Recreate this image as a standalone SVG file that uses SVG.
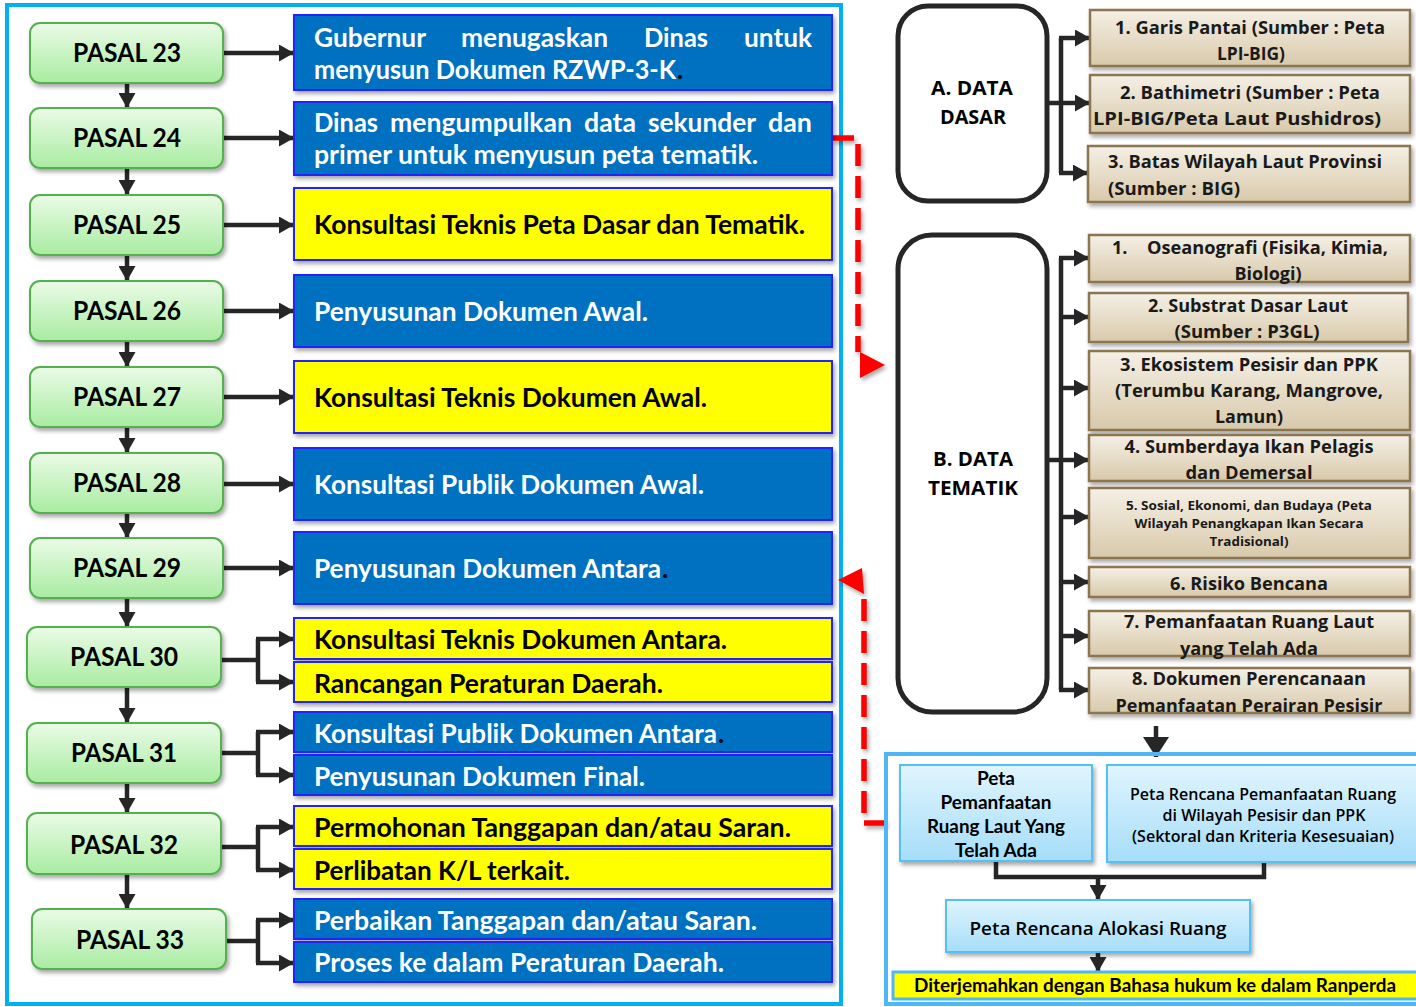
<svg xmlns="http://www.w3.org/2000/svg" width="1416" height="1007" viewBox="0 0 1416 1007">
<style>
.cal{font-family:Lato,"Liberation Sans",sans-serif;font-weight:bold}
.os{font-family:"Open Sans","Noto Sans","Liberation Sans",sans-serif;font-weight:bold}
.oss{font-family:"Open Sans","Noto Sans","Liberation Sans",sans-serif;font-weight:600}
.pasal{fill:url(#gGreen);stroke:#55b04f;stroke-width:2}
.blue{fill:#0070c0;stroke:#2222ff;stroke-width:2}
.yel{fill:#ffff00;stroke:#2222ff;stroke-width:2}
.tan{fill:url(#gTan);stroke:#8b7650;stroke-width:2.5}
.lb{fill:url(#gLB);stroke:#55c0f2;stroke-width:2}
.big{fill:#fff;stroke:#262626;stroke-width:5}
.con{fill:none;stroke:#262626;stroke-width:4.5}
.red{fill:none;stroke:#ff0000;stroke-width:5.5;stroke-dasharray:22 10}
.wt{fill:#fff;font-size:26px}
.bt{fill:#000;font-size:26px}
.pt{fill:#000;font-size:26px}
.tt{fill:#1a1a1a;font-size:18px}
</style>
<defs>
<linearGradient id="gGreen" x1="0" y1="0" x2="0" y2="1"><stop offset="0" stop-color="#ebfbe7"/><stop offset="1" stop-color="#a8eca1"/></linearGradient>
<linearGradient id="gTan" x1="0" y1="0" x2="0" y2="1"><stop offset="0" stop-color="#f5f0e6"/><stop offset="1" stop-color="#d8c9aa"/></linearGradient>
<linearGradient id="gLB" x1="0" y1="0" x2="0" y2="1"><stop offset="0" stop-color="#e0f5fe"/><stop offset="1" stop-color="#a6ddf9"/></linearGradient>
<filter id="sh" x="-10%" y="-20%" width="125%" height="150%"><feDropShadow dx="2" dy="3" stdDeviation="2" flood-color="#000" flood-opacity="0.35"/></filter>
<marker id="ah" markerUnits="userSpaceOnUse" markerWidth="15" markerHeight="17" refX="15" refY="8.5" orient="auto"><path d="M0,0 L15,8.5 L0,17 z" fill="#262626"/></marker>
<marker id="ahL" markerUnits="userSpaceOnUse" markerWidth="22" markerHeight="26" refX="20" refY="13" orient="auto"><path d="M0,0 L20,13 L0,26 z" fill="#262626"/></marker>
</defs>
<rect width="1416" height="1007" fill="#fff"/>

<rect x="7" y="5" width="834" height="999" fill="none" stroke="#00b0f0" stroke-width="4"/>

<g id="connectors">
  <path class="con" marker-end="url(#ah)" d="M127 83 V108"/>
  <path class="con" marker-end="url(#ah)" d="M127 168 V195"/>
  <path class="con" marker-end="url(#ah)" d="M127 255 V281"/>
  <path class="con" marker-end="url(#ah)" d="M127 341 V367"/>
  <path class="con" marker-end="url(#ah)" d="M127 427 V453"/>
  <path class="con" marker-end="url(#ah)" d="M127 513 V538"/>
  <path class="con" marker-end="url(#ah)" d="M127 598 V627"/>
  <path class="con" marker-end="url(#ah)" d="M127 687 V723"/>
  <path class="con" marker-end="url(#ah)" d="M127 783 V813"/>
  <path class="con" marker-end="url(#ah)" d="M127 874 V909"/>
  <path class="con" marker-end="url(#ah)" d="M223 53 H294"/>
  <path class="con" marker-end="url(#ah)" d="M223 138 H294"/>
  <path class="con" marker-end="url(#ah)" d="M223 225 H294"/>
  <path class="con" marker-end="url(#ah)" d="M223 311 H294"/>
  <path class="con" marker-end="url(#ah)" d="M223 397 H294"/>
  <path class="con" marker-end="url(#ah)" d="M223 484 H294"/>
  <path class="con" marker-end="url(#ah)" d="M223 568 H294"/>
  <path class="con" d="M221 660 H258 M258 639 V682"/>
  <path class="con" marker-end="url(#ah)" d="M256 639 H294"/>
  <path class="con" marker-end="url(#ah)" d="M256 682 H294"/>
  <path class="con" d="M221 753 H258 M258 732 V775"/>
  <path class="con" marker-end="url(#ah)" d="M256 732 H294"/>
  <path class="con" marker-end="url(#ah)" d="M256 775 H294"/>
  <path class="con" d="M221 847 H258 M258 827 V870"/>
  <path class="con" marker-end="url(#ah)" d="M256 827 H294"/>
  <path class="con" marker-end="url(#ah)" d="M256 870 H294"/>
  <path class="con" d="M226 941 H258 M258 920 V963"/>
  <path class="con" marker-end="url(#ah)" d="M256 920 H294"/>
  <path class="con" marker-end="url(#ah)" d="M256 963 H294"/>
  <path class="con" d="M1047 103 H1061 M1061 38 V173"/>
  <path class="con" marker-end="url(#ah)" d="M1059 38 H1090"/>
  <path class="con" marker-end="url(#ah)" d="M1059 103 H1090"/>
  <path class="con" marker-end="url(#ah)" d="M1059 173 H1088"/>
  <path class="con" d="M1047 460 H1061 M1061 258 V690"/>
  <path class="con" marker-end="url(#ah)" d="M1059 258 H1089"/>
  <path class="con" marker-end="url(#ah)" d="M1059 317 H1089"/>
  <path class="con" marker-end="url(#ah)" d="M1059 388 H1089"/>
  <path class="con" marker-end="url(#ah)" d="M1059 460 H1089"/>
  <path class="con" marker-end="url(#ah)" d="M1059 517 H1089"/>
  <path class="con" marker-end="url(#ah)" d="M1059 582 H1089"/>
  <path class="con" marker-end="url(#ah)" d="M1059 636 H1089"/>
  <path class="con" marker-end="url(#ah)" d="M1059 690 H1089"/>
  <path class="con" marker-end="url(#ahL)" d="M1156 726 V757"/>
  <path class="con" d="M996 861 V877 H1264 V862"/>
  <path class="con" marker-end="url(#ah)" d="M1098 877 V900"/>
  <path class="con" marker-end="url(#ah)" d="M1098 952 V972"/>
  <g filter="url(#sh)">
    <path class="red" d="M832 138 H858 V352"/>
    <polygon points="860,352 885,365 860,378" fill="#ff0000"/>
    <path class="red" d="M886 823 H864 V590"/>
    <polygon points="838,580 862,568 864,594" fill="#ff0000"/>
  </g>
</g>

<g id="pasal23"><rect class="pasal" filter="url(#sh)" x="30" y="23" width="193" height="60" rx="10"/><text class="cal pt" x="127" y="62" text-anchor="middle" textLength="108" lengthAdjust="spacingAndGlyphs">PASAL 23</text></g>
<g id="pasal24"><rect class="pasal" filter="url(#sh)" x="30" y="108" width="193" height="60" rx="10"/><text class="cal pt" x="127" y="147" text-anchor="middle" textLength="108" lengthAdjust="spacingAndGlyphs">PASAL 24</text></g>
<g id="pasal25"><rect class="pasal" filter="url(#sh)" x="30" y="195" width="193" height="60" rx="10"/><text class="cal pt" x="127" y="234" text-anchor="middle" textLength="108" lengthAdjust="spacingAndGlyphs">PASAL 25</text></g>
<g id="pasal26"><rect class="pasal" filter="url(#sh)" x="30" y="281" width="193" height="60" rx="10"/><text class="cal pt" x="127" y="320" text-anchor="middle" textLength="108" lengthAdjust="spacingAndGlyphs">PASAL 26</text></g>
<g id="pasal27"><rect class="pasal" filter="url(#sh)" x="30" y="367" width="193" height="60" rx="10"/><text class="cal pt" x="127" y="406" text-anchor="middle" textLength="108" lengthAdjust="spacingAndGlyphs">PASAL 27</text></g>
<g id="pasal28"><rect class="pasal" filter="url(#sh)" x="30" y="453" width="193" height="60" rx="10"/><text class="cal pt" x="127" y="492" text-anchor="middle" textLength="108" lengthAdjust="spacingAndGlyphs">PASAL 28</text></g>
<g id="pasal29"><rect class="pasal" filter="url(#sh)" x="30" y="538" width="193" height="60" rx="10"/><text class="cal pt" x="127" y="577" text-anchor="middle" textLength="108" lengthAdjust="spacingAndGlyphs">PASAL 29</text></g>
<g id="pasal30"><rect class="pasal" filter="url(#sh)" x="27" y="627" width="194" height="60" rx="10"/><text class="cal pt" x="124" y="666" text-anchor="middle" textLength="108" lengthAdjust="spacingAndGlyphs">PASAL 30</text></g>
<g id="pasal31"><rect class="pasal" filter="url(#sh)" x="27" y="723" width="194" height="60" rx="10"/><text class="cal pt" x="124" y="762" text-anchor="middle" textLength="106" lengthAdjust="spacingAndGlyphs">PASAL 31</text></g>
<g id="pasal32"><rect class="pasal" filter="url(#sh)" x="27" y="813" width="194" height="61" rx="10"/><text class="cal pt" x="124" y="854" text-anchor="middle" textLength="108" lengthAdjust="spacingAndGlyphs">PASAL 32</text></g>
<g id="pasal33"><rect class="pasal" filter="url(#sh)" x="32" y="909" width="194" height="60" rx="10"/><text class="cal pt" x="130" y="949" text-anchor="middle" textLength="108" lengthAdjust="spacingAndGlyphs">PASAL 33</text></g>

<g id="step1"><rect class="blue" filter="url(#sh)" x="294" y="15" width="538" height="75"/>
<text class="cal wt" y="47"><tspan x="314" textLength="112" lengthAdjust="spacingAndGlyphs">Gubernur</tspan><tspan x="461" textLength="147" lengthAdjust="spacingAndGlyphs">menugaskan</tspan><tspan x="644" textLength="64" lengthAdjust="spacingAndGlyphs">Dinas</tspan><tspan x="744" textLength="68" lengthAdjust="spacingAndGlyphs">untuk</tspan></text>
<text class="cal wt" y="79"><tspan x="314" textLength="362" lengthAdjust="spacingAndGlyphs">menyusun Dokumen RZWP-3-K</tspan><tspan x="677" fill="#000">.</tspan></text></g>
<g id="step2"><rect class="blue" filter="url(#sh)" x="294" y="102" width="538" height="73"/>
<text class="cal wt" y="132"><tspan x="314" textLength="64" lengthAdjust="spacingAndGlyphs">Dinas</tspan><tspan x="390" textLength="182" lengthAdjust="spacingAndGlyphs">mengumpulkan</tspan><tspan x="584" textLength="52" lengthAdjust="spacingAndGlyphs">data</tspan><tspan x="648" textLength="108" lengthAdjust="spacingAndGlyphs">sekunder</tspan><tspan x="768" textLength="44" lengthAdjust="spacingAndGlyphs">dan</tspan></text>
<text class="cal wt" x="314" y="164" textLength="444" lengthAdjust="spacingAndGlyphs">primer untuk menyusun peta tematik.</text></g>
<g id="step3"><rect class="yel" filter="url(#sh)" x="294" y="188" width="538" height="72"/><text class="cal bt" x="314" y="234" textLength="491" lengthAdjust="spacingAndGlyphs">Konsultasi Teknis Peta Dasar dan Tematik.</text></g>
<g id="step4"><rect class="blue" filter="url(#sh)" x="294" y="275" width="538" height="72"/><text class="cal wt" x="314" y="321" textLength="334" lengthAdjust="spacingAndGlyphs">Penyusunan Dokumen Awal.</text></g>
<g id="step5"><rect class="yel" filter="url(#sh)" x="294" y="361" width="538" height="72"/><text class="cal bt" x="314" y="407" textLength="393" lengthAdjust="spacingAndGlyphs">Konsultasi Teknis Dokumen Awal.</text></g>
<g id="step6"><rect class="blue" filter="url(#sh)" x="294" y="448" width="538" height="72"/><text class="cal wt" x="314" y="494" textLength="390" lengthAdjust="spacingAndGlyphs">Konsultasi Publik Dokumen Awal.</text></g>
<g id="step7"><rect class="blue" filter="url(#sh)" x="294" y="532" width="538" height="72"/><text class="cal wt" y="578"><tspan x="314" textLength="347" lengthAdjust="spacingAndGlyphs">Penyusunan Dokumen Antara</tspan><tspan x="662" fill="#000">.</tspan></text></g>
<g id="step8"><rect class="yel" filter="url(#sh)" x="294" y="618" width="538" height="41"/><text class="cal bt" x="314" y="649" textLength="413" lengthAdjust="spacingAndGlyphs">Konsultasi Teknis Dokumen Antara.</text></g>
<g id="step9"><rect class="yel" filter="url(#sh)" x="294" y="662" width="538" height="40"/><text class="cal bt" x="314" y="693" textLength="349" lengthAdjust="spacingAndGlyphs">Rancangan Peraturan Daerah.</text></g>
<g id="step10"><rect class="blue" filter="url(#sh)" x="294" y="712" width="538" height="40"/><text class="cal wt" y="743"><tspan x="314" textLength="403" lengthAdjust="spacingAndGlyphs">Konsultasi Publik Dokumen Antara</tspan><tspan x="718" fill="#000">.</tspan></text></g>
<g id="step11"><rect class="blue" filter="url(#sh)" x="294" y="755" width="538" height="40"/><text class="cal wt" x="314" y="786" textLength="331" lengthAdjust="spacingAndGlyphs">Penyusunan Dokumen Final.</text></g>
<g id="step12"><rect class="yel" filter="url(#sh)" x="294" y="806" width="538" height="40"/><text class="cal bt" x="314" y="837" textLength="477" lengthAdjust="spacingAndGlyphs">Permohonan Tanggapan dan/atau Saran.</text></g>
<g id="step13"><rect class="yel" filter="url(#sh)" x="294" y="849" width="538" height="40"/><text class="cal bt" x="314" y="880" textLength="256" lengthAdjust="spacingAndGlyphs">Perlibatan K/L terkait.</text></g>
<g id="step14"><rect class="blue" filter="url(#sh)" x="294" y="899" width="538" height="40"/><text class="cal wt" x="314" y="930" textLength="443" lengthAdjust="spacingAndGlyphs">Perbaikan Tanggapan dan/atau Saran.</text></g>
<g id="step15"><rect class="blue" filter="url(#sh)" x="294" y="942" width="538" height="40"/><text class="cal wt" x="314" y="972" textLength="410" lengthAdjust="spacingAndGlyphs">Proses ke dalam Peraturan Daerah.</text></g>

<g id="dataDasar"><rect class="big" x="898" y="6" width="149" height="195" rx="30"/>
<text class="os" font-size="20" fill="#000" x="972" y="95" text-anchor="middle" textLength="82" lengthAdjust="spacingAndGlyphs">A. DATA</text>
<text class="os" font-size="20" fill="#000" x="973" y="124" text-anchor="middle" textLength="66" lengthAdjust="spacingAndGlyphs">DASAR</text></g>
<g id="a1"><rect class="tan" filter="url(#sh)" x="1090" y="10" width="320" height="56"/>
<text class="os tt" x="1250" y="33.5" text-anchor="middle" textLength="270" lengthAdjust="spacingAndGlyphs">1. Garis Pantai (Sumber : Peta</text>
<text class="os tt" x="1251" y="59.5" text-anchor="middle" textLength="68" lengthAdjust="spacingAndGlyphs">LPI-BIG)</text></g>
<g id="a2"><rect class="tan" filter="url(#sh)" x="1090" y="75" width="320" height="58"/>
<text class="os tt" x="1250" y="98.5" text-anchor="middle" textLength="260" lengthAdjust="spacingAndGlyphs">2. Bathimetri (Sumber : Peta</text>
<text class="os tt" x="1237" y="124.5" text-anchor="middle" textLength="288" lengthAdjust="spacingAndGlyphs">LPI-BIG/Peta Laut Pushidros)</text></g>
<g id="a3"><rect class="tan" filter="url(#sh)" x="1088" y="146" width="322" height="56"/>
<text class="os tt" x="1108" y="167.5" textLength="274" lengthAdjust="spacingAndGlyphs">3. Batas Wilayah Laut Provinsi</text>
<text class="os tt" x="1108" y="194.5" textLength="132" lengthAdjust="spacingAndGlyphs">(Sumber : BIG)</text></g>

<g id="dataTematik"><rect class="big" x="898" y="235" width="149" height="477" rx="34"/>
<text class="os" font-size="20" fill="#000" x="973" y="466" text-anchor="middle" textLength="80" lengthAdjust="spacingAndGlyphs">B. DATA</text>
<text class="os" font-size="20" fill="#000" x="973" y="495" text-anchor="middle" textLength="90" lengthAdjust="spacingAndGlyphs">TEMATIK</text></g>
<g id="b1"><rect class="tan" filter="url(#sh)" x="1089" y="235" width="321" height="47"/>
<text class="os tt" y="253.5"><tspan x="1112">1.</tspan><tspan x="1147" textLength="241" lengthAdjust="spacingAndGlyphs">Oseanografi (Fisika, Kimia,</tspan></text>
<text class="os tt" x="1268" y="279.5" text-anchor="middle" textLength="67" lengthAdjust="spacingAndGlyphs">Biologi)</text></g>
<g id="b2"><rect class="tan" filter="url(#sh)" x="1089" y="293" width="319" height="49"/>
<text class="os tt" x="1248" y="311.5" text-anchor="middle" textLength="200" lengthAdjust="spacingAndGlyphs">2. Substrat Dasar Laut</text>
<text class="os tt" x="1247" y="337.5" text-anchor="middle" textLength="145" lengthAdjust="spacingAndGlyphs">(Sumber : P3GL)</text></g>
<g id="b3"><rect class="tan" filter="url(#sh)" x="1089" y="351" width="321" height="79"/>
<text class="os tt" x="1249" y="370.5" text-anchor="middle" textLength="258" lengthAdjust="spacingAndGlyphs">3. Ekosistem Pesisir dan PPK</text>
<text class="os tt" x="1249" y="396.5" text-anchor="middle" textLength="268" lengthAdjust="spacingAndGlyphs">(Terumbu Karang, Mangrove,</text>
<text class="os tt" x="1249" y="422.5" text-anchor="middle" textLength="68" lengthAdjust="spacingAndGlyphs">Lamun)</text></g>
<g id="b4"><rect class="tan" filter="url(#sh)" x="1089" y="435" width="321" height="46"/>
<text class="os tt" x="1249" y="452.5" text-anchor="middle" textLength="249" lengthAdjust="spacingAndGlyphs">4. Sumberdaya Ikan Pelagis</text>
<text class="os tt" x="1249" y="478.5" text-anchor="middle" textLength="127" lengthAdjust="spacingAndGlyphs">dan Demersal</text></g>
<g id="b5"><rect class="tan" filter="url(#sh)" x="1089" y="488" width="321" height="70"/>
<text class="os" font-size="13" fill="#1a1a1a" x="1249" y="509.5" text-anchor="middle" textLength="246" lengthAdjust="spacingAndGlyphs">5. Sosial, Ekonomi, dan Budaya (Peta</text>
<text class="os" font-size="13" fill="#1a1a1a" x="1249" y="527.5" text-anchor="middle" textLength="229" lengthAdjust="spacingAndGlyphs">Wilayah Penangkapan Ikan Secara</text>
<text class="os" font-size="13" fill="#1a1a1a" x="1249" y="545.5" text-anchor="middle" textLength="79" lengthAdjust="spacingAndGlyphs">Tradisional)</text></g>
<g id="b6"><rect class="tan" filter="url(#sh)" x="1089" y="567" width="321" height="30"/>
<text class="os tt" x="1249" y="589.5" text-anchor="middle" textLength="158" lengthAdjust="spacingAndGlyphs">6. Risiko Bencana</text></g>
<g id="b7"><rect class="tan" filter="url(#sh)" x="1089" y="611" width="321" height="45"/>
<text class="os tt" x="1249" y="627.5" text-anchor="middle" textLength="250" lengthAdjust="spacingAndGlyphs">7. Pemanfaatan Ruang Laut</text>
<text class="os tt" x="1249" y="654.5" text-anchor="middle" textLength="138" lengthAdjust="spacingAndGlyphs">yang Telah Ada</text></g>
<g id="b8"><rect class="tan" filter="url(#sh)" x="1089" y="668" width="321" height="45"/>
<text class="os tt" x="1249" y="684.5" text-anchor="middle" textLength="234" lengthAdjust="spacingAndGlyphs">8. Dokumen Perencanaan</text>
<text class="os tt" x="1249" y="711.5" text-anchor="middle" textLength="267" lengthAdjust="spacingAndGlyphs">Pemanfaatan Perairan Pesisir</text></g>

<rect x="886" y="754" width="540" height="250" fill="none" stroke="#4fb6f7" stroke-width="4"/>
<g id="petaPemanfaatan"><rect class="lb" filter="url(#sh)" x="900" y="765" width="192" height="96"/>
<text class="cal" font-size="18" fill="#000" x="996" y="784.5" text-anchor="middle" textLength="38" lengthAdjust="spacingAndGlyphs">Peta</text>
<text class="cal" font-size="18" fill="#000" x="996" y="808.5" text-anchor="middle" textLength="111" lengthAdjust="spacingAndGlyphs">Pemanfaatan</text>
<text class="cal" font-size="18" fill="#000" x="996" y="832.5" text-anchor="middle" textLength="138" lengthAdjust="spacingAndGlyphs">Ruang Laut Yang</text>
<text class="cal" font-size="18" fill="#000" x="996" y="856.5" text-anchor="middle" textLength="82" lengthAdjust="spacingAndGlyphs">Telah Ada</text></g>
<g id="petaRencana"><rect class="lb" filter="url(#sh)" x="1107" y="765" width="320" height="97"/>
<text class="oss" font-size="16" fill="#000" x="1263" y="799.5" text-anchor="middle" textLength="266" lengthAdjust="spacingAndGlyphs">Peta Rencana Pemanfaatan Ruang</text>
<text class="oss" font-size="16" fill="#000" x="1264" y="820.5" text-anchor="middle" textLength="203" lengthAdjust="spacingAndGlyphs">di Wilayah Pesisir dan PPK</text>
<text class="oss" font-size="16" fill="#000" x="1263" y="841.5" text-anchor="middle" textLength="262" lengthAdjust="spacingAndGlyphs">(Sektoral dan Kriteria Kesesuaian)</text></g>
<g id="petaAlokasi"><rect class="lb" filter="url(#sh)" x="946" y="900" width="304" height="52"/>
<text class="oss" font-size="18" fill="#000" x="1098" y="934.5" text-anchor="middle" textLength="257" lengthAdjust="spacingAndGlyphs">Peta Rencana Alokasi Ruang</text></g>
<g id="ranperda"><rect x="893" y="972" width="530" height="27" fill="#ffff00" stroke="#4fb6f7" stroke-width="3"/>
<text class="cal" font-size="18" fill="#000" x="1155" y="992" text-anchor="middle" textLength="482" lengthAdjust="spacingAndGlyphs">Diterjemahkan dengan Bahasa hukum ke dalam Ranperda</text></g>
</svg>
